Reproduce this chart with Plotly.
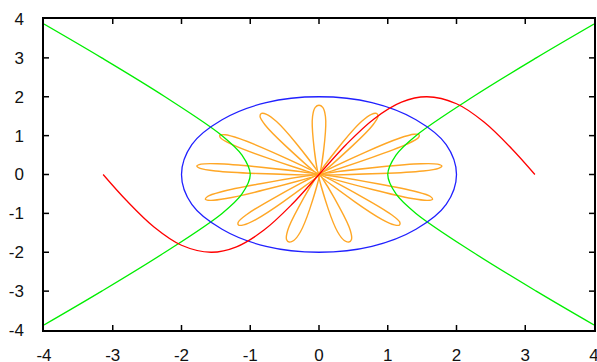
import numpy as np
import plotly.graph_objects as go

# red curve, points
red_x = [-3.14, -2.8, -2.4, -2.0, -1.57, -1.2, -0.8, -0.4, 0.0, 0.4, 0.8, 1.2, 1.57, 2.0, 2.4, 2.8, 3.14]
red_y = [0.0, -0.67, -1.35, -1.82, -2.0, -1.86, -1.43, -0.78, 0.0, 0.78, 1.43, 1.86, 2.0, 1.82, 1.35, 0.67, 0.0]

# blue ring (radius 2 in data units)
blue_x = [2.0, 1.85, 1.41, 0.77, 0.0, -0.77, -1.41, -1.85, -2.0, -1.85, -1.41, -0.77, 0.0, 0.77, 1.41, 1.85, 2.0]
blue_y = [0.0, 0.77, 1.41, 1.85, 2.0, 1.85, 1.41, 0.77, 0.0, -0.77, -1.41, -1.85, -2.0, -1.85, -1.41, -0.77, 0.0]

# green branches (right branch; left one is its mirror)
green_y = [-3.87, -3.0, -2.0, -1.0, -0.5, 0.0, 0.5, 1.0, 2.0, 3.0, 3.87]
green_x = [4.0, 3.16, 2.24, 1.41, 1.12, 1.0, 1.12, 1.41, 2.24, 3.16, 4.0]

# orange flower: petal tip directions (deg) and lengths
petal_tip_deg = [7, 35, 62, 90, 118, 145, 173, 201, 228, 256, 284, 312, 339]
petal_len = [1.8, 1.78, 1.78, 1.78, 1.78, 1.76, 1.79, 1.77, 1.75, 1.79, 1.79, 1.75, 1.77]
# petal outline: angle offset from tip (deg) and share of length
petal_off_deg = [-6.9, -5.4, -3.6, -1.8, 0, 1.8, 3.6, 5.4, 6.9]
petal_share = [0.0, 0.5, 0.84, 0.97, 1.0, 0.97, 0.84, 0.5, 0.0]

ticks = [-4, -3, -2, -1, 0, 1, 2, 3, 4]
tick_text = ["-4", "-3", "-2", "-1", "0", "1", "2", "3", "4"]

fig = go.Figure()

flower_x, flower_y = [], []
for tip, ln in zip(petal_tip_deg, petal_len):
    ang = np.radians(tip + np.array(petal_off_deg))
    r = ln * np.array(petal_share)
    flower_x += list(r * np.cos(ang)) + [None]
    flower_y += list(r * np.sin(ang)) + [None]

fig.add_trace(go.Scatter(x=flower_x, y=flower_y, mode="lines",
                         line=dict(color="#ffa726", width=1.4, shape="spline", smoothing=0.9)))
fig.add_trace(go.Scatter(x=green_x, y=green_y, mode="lines",
                         line=dict(color="#00ee00", width=1.3, shape="spline")))
fig.add_trace(go.Scatter(x=[-v for v in green_x], y=green_y, mode="lines",
                         line=dict(color="#00ee00", width=1.3, shape="spline")))
fig.add_trace(go.Scatter(x=blue_x, y=blue_y, mode="lines",
                         line=dict(color="#2020ff", width=1.3, shape="spline")))
fig.add_trace(go.Scatter(x=red_x, y=red_y, mode="lines",
                         line=dict(color="#ff0000", width=1.3, shape="spline")))

# small inward tick marks on all four sides (built-in ticks do not show here)
tick_line = dict(color="#000000", width=1.5)
tx = 5 / 550
ty = 5 / 311
for t in ticks[1:-1]:
    fig.add_shape(type="line", xref="x", yref="paper", x0=t, x1=t, y0=0, y1=ty, line=tick_line)
    fig.add_shape(type="line", xref="x", yref="paper", x0=t, x1=t, y0=1, y1=1 - ty, line=tick_line)
    fig.add_shape(type="line", xref="paper", yref="y", x0=0, x1=tx, y0=t, y1=t, line=tick_line)
    fig.add_shape(type="line", xref="paper", yref="y", x0=1, x1=1 - tx, y0=t, y1=t, line=tick_line)

fig.update_layout(
    width=597, height=362,
    margin=dict(l=44, r=3, t=19, b=32),
    plot_bgcolor="white", paper_bgcolor="white",
    showlegend=False,
)
for upd, standoff in ((fig.update_xaxes, 9), (fig.update_yaxes, 15)):
    upd(range=[-4, 4], tickvals=ticks, ticktext=tick_text, ticklabelstandoff=standoff,
        ticklabeloverflow="allow",
        showgrid=False, zeroline=False, automargin=False,
        showline=True, linecolor="#000000", linewidth=1.5, mirror=True,
        ticks="",
        tickfont=dict(family="Liberation Sans, Arial", size=17, color="#111"))

# drop the default page margin so the figure sits at the window corner
fig.write_html("out.html", config={"displayModeBar": False},
               post_script="document.body.style.margin='0';document.body.style.overflow='hidden';")
